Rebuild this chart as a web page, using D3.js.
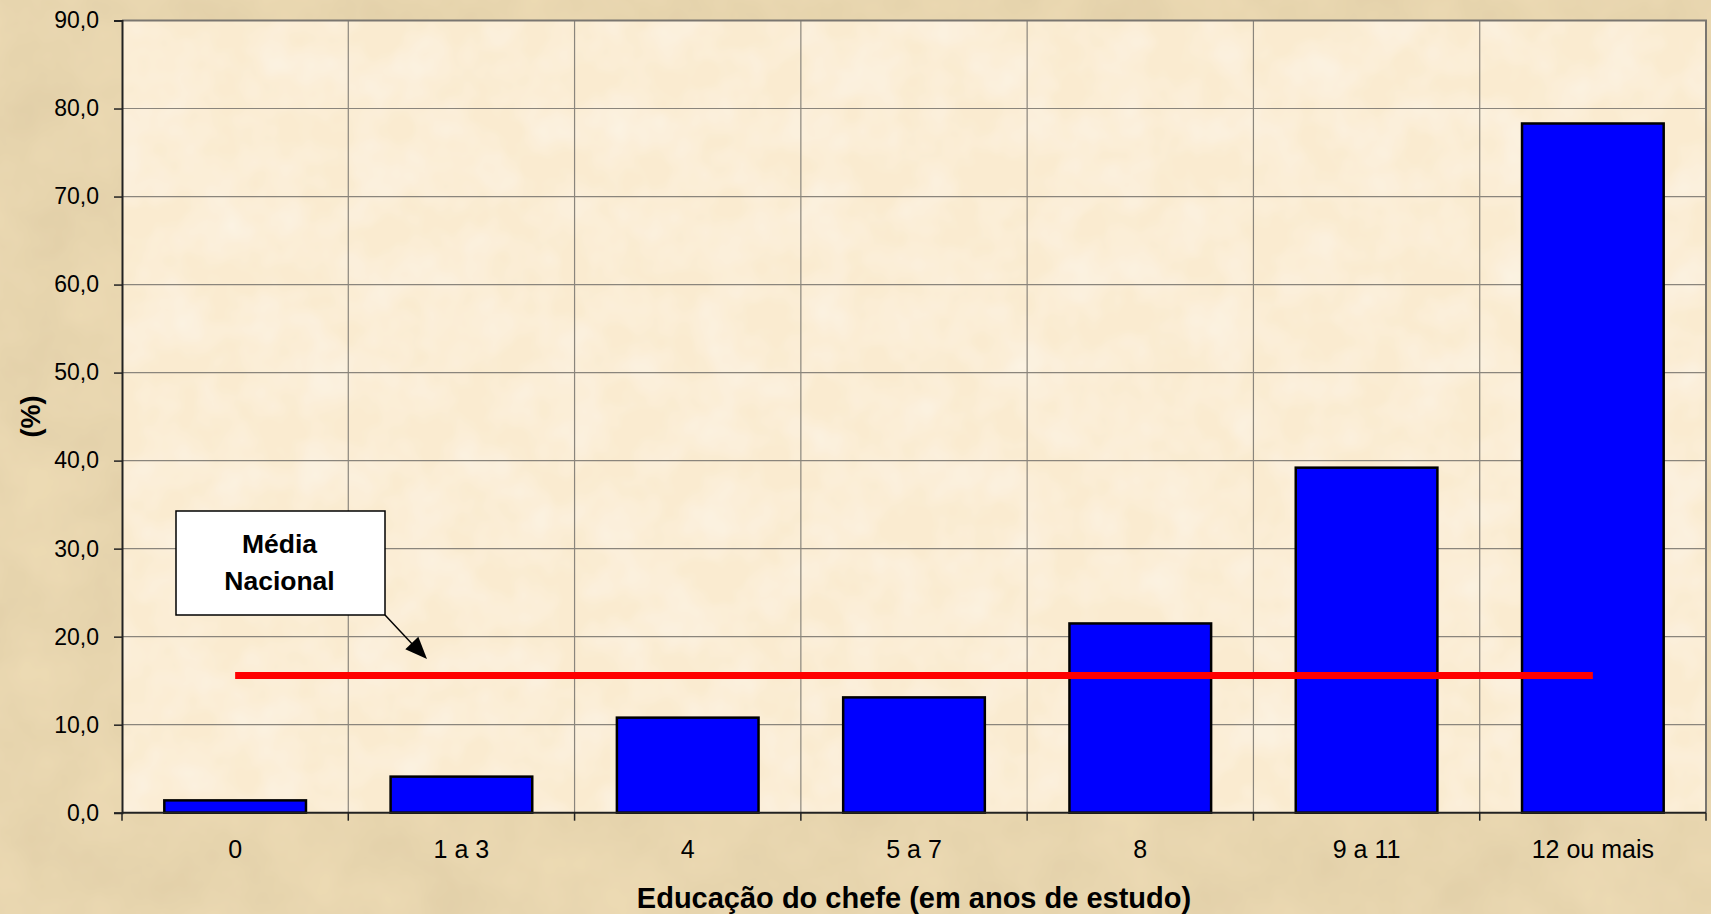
<!DOCTYPE html>
<html>
<head>
<meta charset="utf-8">
<script src="https://cdn.jsdelivr.net/npm/d3@7"></script>
<style>
  html, body { margin: 0; padding: 0; background: #EBD8B0; }
  svg { display: block; }
  text { font-family: Arial, "Liberation Sans", sans-serif; }
</style>
</head>
<body>
<script>
// ---- Data ----
const categories = ["0", "1 a 3", "4", "5 a 7", "8", "9 a 11", "12 ou mais"];
const values = [1.4, 4.1, 10.8, 13.1, 21.5, 39.2, 78.3];
const mediaNacional = 15.6;
const yTicks = [0, 10, 20, 30, 40, 50, 60, 70, 80, 90];
const xTitle = "Educação do chefe (em anos de estudo)";
const yTitle = "(%)";
const calloutLines = ["Média", "Nacional"];

// ---- Layout ----
const W = 1711, H = 914;
const plot = { left: 122, top: 20.5, right: 1706, bottom: 812.7 };

const svg = d3.select("body").append("svg").attr("width", W).attr("height", H);
const defs = svg.append("defs");

// parchment texture
const f = defs.append("filter").attr("id", "parch").attr("x", 0).attr("y", 0).attr("width", "100%").attr("height", "100%");
f.append("feTurbulence").attr("type", "fractalNoise").attr("baseFrequency", 0.012).attr("numOctaves", 4).attr("seed", 3).attr("result", "noise");
f.append("feColorMatrix").attr("in", "noise").attr("type", "matrix")
  .attr("values", "0 0 0 0 0.62  0 0 0 0 0.50  0 0 0 0 0.30  0 0 0 0.55 -0.12").attr("result", "tint");
f.append("feComposite").attr("in", "tint").attr("in2", "SourceGraphic").attr("operator", "over");

const f2 = defs.append("filter").attr("id", "parch2").attr("x", 0).attr("y", 0).attr("width", "100%").attr("height", "100%");
f2.append("feTurbulence").attr("type", "fractalNoise").attr("baseFrequency", 0.02).attr("numOctaves", 3).attr("seed", 7).attr("result", "noise");
f2.append("feColorMatrix").attr("in", "noise").attr("type", "matrix")
  .attr("values", "0 0 0 0 1  0 0 0 0 1  0 0 0 0 1  0 0 0 0.6 -0.2").attr("result", "tint");
f2.append("feComposite").attr("in", "tint").attr("in2", "SourceGraphic").attr("operator", "over");

svg.append("rect").attr("width", W).attr("height", H).attr("fill", "#ECDAB3").attr("filter", "url(#parch)");

// scales
const x = d3.scaleBand().domain(categories).range([plot.left, plot.right]).padding(0);
const y = d3.scaleLinear().domain([0, 90]).range([plot.bottom, plot.top]);

// plot area
svg.append("rect")
  .attr("x", plot.left).attr("y", plot.top)
  .attr("width", plot.right - plot.left).attr("height", plot.bottom - plot.top)
  .attr("fill", "#FAEBD0").attr("filter", "url(#parch2)");

// horizontal gridlines
svg.append("g").selectAll("line").data(yTicks.slice(1)).join("line")
  .attr("x1", plot.left).attr("x2", plot.right)
  .attr("y1", d => y(d)).attr("y2", d => y(d))
  .attr("stroke", "#8a857c").attr("stroke-width", 1.2);

// vertical gridlines at category boundaries
const bounds = categories.slice(1).map(c => x(c));
svg.append("g").selectAll("line").data(bounds).join("line")
  .attr("x1", d => d).attr("x2", d => d)
  .attr("y1", plot.top).attr("y2", plot.bottom)
  .attr("stroke", "#8a857c").attr("stroke-width", 1.2);

// plot border (top/right)
svg.append("path")
  .attr("d", `M${plot.left},${plot.top}H${plot.right}V${plot.bottom}`)
  .attr("fill", "none").attr("stroke", "#7a7670").attr("stroke-width", 2);

// bars
const barW = x.bandwidth() * 0.626;
svg.append("g").selectAll("rect").data(values).join("rect")
  .attr("x", (d, i) => x(categories[i]) + (x.bandwidth() - barW) / 2)
  .attr("y", d => y(d))
  .attr("width", barW)
  .attr("height", d => y(0) - y(d))
  .attr("fill", "#0000FF").attr("stroke", "#000").attr("stroke-width", 2.5);

// y axis
const yAxis = d3.axisLeft(y).tickValues(yTicks).tickSize(8).tickPadding(15)
  .tickFormat(d => d3.format(".1f")(d).replace(".", ","));
const gy = svg.append("g").attr("transform", `translate(${plot.left},0)`).call(yAxis);
gy.select(".domain").attr("stroke", "#222").attr("stroke-width", 2);
gy.selectAll(".tick line").attr("stroke", "#222").attr("stroke-width", 1.5);
gy.selectAll(".tick text").attr("font-size", 23).attr("fill", "#000");

// x axis
const gx = svg.append("g").attr("transform", `translate(0,${plot.bottom})`);
gx.append("line").attr("x1", plot.left).attr("x2", plot.right).attr("y1", 0).attr("y2", 0)
  .attr("stroke", "#222").attr("stroke-width", 2);
const tickPos = categories.map(c => x(c)).concat([plot.right]);
gx.selectAll("line.t").data(tickPos).join("line").attr("class", "t")
  .attr("x1", d => d).attr("x2", d => d).attr("y1", 0).attr("y2", 8)
  .attr("stroke", "#222").attr("stroke-width", 1.5);
gx.selectAll("text").data(categories).join("text")
  .attr("x", d => x(d) + x.bandwidth() / 2).attr("y", 45)
  .attr("text-anchor", "middle").attr("font-size", 25).attr("fill", "#000")
  .text(d => d);

// axis titles
svg.append("text").attr("x", (plot.left + plot.right) / 2).attr("y", 908)
  .attr("text-anchor", "middle").attr("font-size", 29).attr("font-weight", "bold").text(xTitle);
svg.append("text")
  .attr("transform", `translate(40,${(plot.top + plot.bottom) / 2}) rotate(-90)`)
  .attr("text-anchor", "middle").attr("font-size", 27).attr("font-weight", "bold").text(yTitle);

// média nacional line
const lineX1 = x(categories[0]) + x.bandwidth() / 2;
const lineX2 = x(categories[categories.length - 1]) + x.bandwidth() / 2;
svg.append("line")
  .attr("x1", lineX1).attr("x2", lineX2)
  .attr("y1", y(mediaNacional)).attr("y2", y(mediaNacional))
  .attr("stroke", "#FF0000").attr("stroke-width", 7);

// callout
const box = { x: 176, y: 511, w: 209, h: 104 };
svg.append("rect").attr("x", box.x).attr("y", box.y).attr("width", box.w).attr("height", box.h)
  .attr("fill", "#fff").attr("stroke", "#000").attr("stroke-width", 1.5);
svg.append("text").attr("x", box.x + box.w / 2 - 1).attr("y", 553)
  .attr("text-anchor", "middle").attr("font-size", 26.5).attr("font-weight", "bold").text(calloutLines[0]);
svg.append("text").attr("x", box.x + box.w / 2 - 1).attr("y", 590)
  .attr("text-anchor", "middle").attr("font-size", 26.5).attr("font-weight", "bold").text(calloutLines[1]);

// arrow
const arrowStart = [box.x + box.w, box.y + box.h];
const arrowEnd = [427, 659];
svg.append("line")
  .attr("x1", arrowStart[0]).attr("y1", arrowStart[1])
  .attr("x2", arrowEnd[0] - 12).attr("y2", arrowEnd[1] - 12)
  .attr("stroke", "#000").attr("stroke-width", 1.5);
svg.append("path")
  .attr("d", (() => {
    const ang = Math.atan2(arrowEnd[1] - arrowStart[1], arrowEnd[0] - arrowStart[0]);
    const L = 22, Wd = 9;
    const bx = arrowEnd[0] - L * Math.cos(ang), by = arrowEnd[1] - L * Math.sin(ang);
    const px = -Math.sin(ang) * Wd, py = Math.cos(ang) * Wd;
    return `M${arrowEnd[0]},${arrowEnd[1]}L${bx + px},${by + py}L${bx - px},${by - py}Z`;
  })())
  .attr("fill", "#000");
</script>
</body>
</html>
